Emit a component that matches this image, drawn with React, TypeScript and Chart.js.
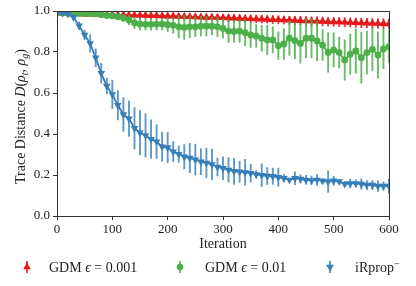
import { useEffect, useRef } from 'react';
import { Chart, registerables } from 'chart.js';

Chart.register(...registerables);

const iterations = [
  0, 10, 20, 30, 40, 50, 60, 70, 80, 90, 100, 110, 120, 130, 140, 150, 160, 170, 180, 190,
  200, 210, 220, 230, 240, 250, 260, 270, 280, 290, 300, 310, 320, 330, 340, 350, 360, 370, 380, 390,
  400, 410, 420, 430, 440, 450, 460, 470, 480, 490, 500, 510, 520, 530, 540, 550, 560, 570, 580, 590, 600,
];

const gdm001 = [
  0.988, 0.988, 0.987, 0.987, 0.986, 0.985, 0.985, 0.984, 0.983, 0.983, 0.982, 0.981, 0.981, 0.980, 0.979, 0.979, 0.978, 0.977, 0.977, 0.976,
  0.975, 0.975, 0.974, 0.973, 0.972, 0.971, 0.970, 0.969, 0.969, 0.968, 0.967, 0.966, 0.965, 0.964, 0.963, 0.962, 0.961, 0.960, 0.959, 0.958,
  0.957, 0.956, 0.955, 0.954, 0.953, 0.952, 0.951, 0.950, 0.949, 0.948, 0.947, 0.946, 0.945, 0.944, 0.943, 0.942, 0.941, 0.940, 0.939, 0.938, 0.937,
];
const gdm001Err = [
  0.008, 0.009, 0.01, 0.01, 0.011, 0.011, 0.012, 0.012, 0.012, 0.013, 0.013, 0.013, 0.014, 0.014, 0.014, 0.015, 0.015, 0.015, 0.015, 0.016,
  0.016, 0.016, 0.016, 0.017, 0.017, 0.017, 0.017, 0.018, 0.018, 0.018, 0.018, 0.019, 0.019, 0.019, 0.019, 0.02, 0.02, 0.02, 0.02, 0.021,
  0.021, 0.021, 0.021, 0.022, 0.022, 0.022, 0.022, 0.023, 0.023, 0.023, 0.023, 0.024, 0.024, 0.024, 0.024, 0.025, 0.025, 0.025, 0.025, 0.026, 0.026,
];

const gdm01 = [
  0.990, 0.990, 0.989, 0.989, 0.988, 0.988, 0.987, 0.986, 0.982, 0.978, 0.976, 0.972, 0.966, 0.956, 0.942, 0.936, 0.935, 0.935, 0.936, 0.936,
  0.933, 0.930, 0.923, 0.920, 0.923, 0.923, 0.926, 0.926, 0.926, 0.923, 0.915, 0.902, 0.900, 0.902, 0.894, 0.883, 0.878, 0.867, 0.859, 0.859,
  0.831, 0.839, 0.867, 0.855, 0.842, 0.867, 0.867, 0.854, 0.834, 0.798, 0.810, 0.797, 0.761, 0.789, 0.805, 0.772, 0.797, 0.813, 0.785, 0.815, 0.826,
];
const gdm01Err = [
  0.005, 0.005, 0.005, 0.005, 0.005, 0.005, 0.005, 0.006, 0.008, 0.01, 0.012, 0.015, 0.02, 0.025, 0.03, 0.03, 0.03, 0.03, 0.03, 0.03,
  0.035, 0.04, 0.055, 0.06, 0.055, 0.05, 0.05, 0.05, 0.045, 0.05, 0.049, 0.057, 0.055, 0.057, 0.065, 0.063, 0.057, 0.065, 0.073, 0.065,
  0.069, 0.077, 0.085, 0.089, 0.098, 0.098, 0.098, 0.098, 0.077, 0.098, 0.085, 0.077, 0.1, 0.1, 0.11, 0.126, 0.106, 0.106, 0.114, 0.098, 0.08,
];

const irprop = [
  0.995, 0.99, 0.985, 0.969, 0.928, 0.883, 0.842, 0.772, 0.696, 0.634, 0.593, 0.54, 0.495, 0.475, 0.428, 0.406, 0.393, 0.375, 0.363, 0.338,
  0.334, 0.314, 0.302, 0.289, 0.283, 0.275, 0.265, 0.259, 0.252, 0.239, 0.233, 0.225, 0.218, 0.216, 0.213, 0.209, 0.203, 0.199, 0.195, 0.194,
  0.189, 0.184, 0.176, 0.184, 0.181, 0.176, 0.174, 0.176, 0.171, 0.168, 0.172, 0.168, 0.156, 0.159, 0.159, 0.156, 0.151, 0.151, 0.146, 0.146, 0.146,
];
const irpropErr = [
  0.005, 0.005, 0.01, 0.015, 0.02, 0.025, 0.045, 0.045, 0.05, 0.04, 0.07, 0.073, 0.084, 0.088, 0.103, 0.11, 0.107, 0.096, 0.084, 0.072,
  0.075, 0.05, 0.042, 0.061, 0.073, 0.077, 0.065, 0.073, 0.077, 0.045, 0.057, 0.061, 0.065, 0.053, 0.065, 0.045, 0.02, 0.057, 0.043, 0.041,
  0.046, 0.02, 0.01, 0.033, 0.022, 0.024, 0.023, 0.028, 0.014, 0.054, 0.023, 0.012, 0.014, 0.023, 0.02, 0.027, 0.024, 0.024, 0.028, 0.022, 0.037,
];

const seriesLabels = ['GDM ϵ = 0.001', 'GDM ϵ = 0.01', 'iRprop⁻'];
const xTickValues = [0, 100, 200, 300, 400, 500, 600];
const yTickValues = [0, 0.2, 0.4, 0.6, 0.8, 1.0];

const RED = '#e41a1c';
const GREEN = '#4daf4a';
const BLUE = '#377eb8';
const SERIF = '"Liberation Serif", "DejaVu Serif", serif';

const toPoints = (ys: number[]) => iterations.map((x, i) => ({ x, y: ys[i] }));

const errorBarPlugin = {
  id: 'errorBars',
  beforeDatasetDraw(chart: any, args: any) {
    const ds = chart.data.datasets[args.index];
    const errs: number[] | undefined = ds.errors;
    if (!errs) return;
    const ctx = chart.ctx;
    const ys = chart.scales.y;
    const xs = chart.scales.x;
    const area = chart.chartArea;
    ctx.save();
    ctx.beginPath();
    ctx.rect(area.left, area.top, area.right - area.left, area.bottom - area.top);
    ctx.clip();
    ctx.strokeStyle = ds.errorColor;
    ctx.lineWidth = 1.9;
    ds.data.forEach((p: any, i: number) => {
      const px = xs.getPixelForValue(p.x);
      ctx.beginPath();
      ctx.moveTo(px, ys.getPixelForValue(p.y - errs[i]));
      ctx.lineTo(px, ys.getPixelForValue(p.y + errs[i]));
      ctx.stroke();
    });
    ctx.restore();
  },
};

const framePlugin = {
  id: 'frame',
  afterDraw(chart: any) {
    const { ctx, chartArea: a } = chart;
    ctx.save();
    ctx.strokeStyle = '#333';
    ctx.lineWidth = 1;
    ctx.strokeRect(Math.round(a.left) + 0.5, Math.round(a.top) + 0.5, Math.round(a.right - a.left), Math.round(a.bottom - a.top));
    ctx.restore();
  },
};

type Part = { t: string; italic?: boolean; sub?: boolean; sup?: boolean };

function drawParts(ctx: CanvasRenderingContext2D, parts: Part[], x: number, y: number, size: number, align: 'left' | 'center') {
  const fontFor = (p: Part) => `${p.italic ? 'italic ' : ''}${p.sub || p.sup ? Math.round(size * 0.72) : size}px ${SERIF}`;
  let total = 0;
  const widths = parts.map((p) => {
    ctx.font = fontFor(p);
    const w = ctx.measureText(p.t).width;
    total += w;
    return w;
  });
  let cx = align === 'center' ? x - total / 2 : x;
  ctx.textBaseline = 'alphabetic';
  ctx.textAlign = 'left';
  parts.forEach((p, i) => {
    ctx.font = fontFor(p);
    const dy = p.sub ? size * 0.22 : p.sup ? -size * 0.38 : 0;
    ctx.fillText(p.t, cx, y + dy);
    cx += widths[i];
  });
}

const yTitlePlugin = {
  id: 'yTitle',
  afterDraw(chart: any) {
    const { ctx, chartArea: a } = chart;
    ctx.save();
    ctx.translate(25, (a.top + a.bottom) / 2 + 3);
    ctx.rotate(-Math.PI / 2);
    ctx.fillStyle = '#222';
    drawParts(
      ctx,
      [
        { t: 'Trace Distance ' },
        { t: 'D', italic: true },
        { t: '(' },
        { t: 'ρ', italic: true },
        { t: 't', italic: true, sub: true },
        { t: ', ' },
        { t: 'ρ', italic: true },
        { t: 'g', italic: true, sub: true },
        { t: ')' },
      ],
      0,
      0,
      14,
      'center'
    );
    ctx.restore();
  },
};

function drawMarker(ctx: CanvasRenderingContext2D, kind: string, x: number, y: number, r: number) {
  ctx.beginPath();
  if (kind === 'circle') {
    ctx.arc(x, y, r, 0, Math.PI * 2);
  } else {
    const s = kind === 'up' ? 1 : -1;
    const h = r * 1.5;
    const half = r * 0.866;
    ctx.moveTo(x, y - s * h * 0.667);
    ctx.lineTo(x - half, y + s * h * 0.333);
    ctx.lineTo(x + half, y + s * h * 0.333);
    ctx.closePath();
  }
  ctx.fill();
}

const legendPlugin = {
  id: 'customLegend',
  afterDraw(chart: any) {
    const { ctx } = chart;
    const y = 267;
    const items = [
      { color: RED, kind: 'up', mx: 27, tx: 49, parts: [{ t: 'GDM ' }, { t: 'ϵ', italic: true }, { t: ' = 0.001' }] },
      { color: GREEN, kind: 'circle', mx: 180, tx: 205, parts: [{ t: 'GDM ' }, { t: 'ϵ', italic: true }, { t: ' = 0.01' }] },
      { color: BLUE, kind: 'down', mx: 330, tx: 355, parts: [{ t: 'iRprop' }, { t: '−', sup: true }] },
    ];
    ctx.save();
    items.forEach((it, i) => {
      ctx.strokeStyle = it.color;
      ctx.globalAlpha = 0.85;
      ctx.lineWidth = 1.9;
      ctx.beginPath();
      ctx.moveTo(it.mx, y - 6);
      ctx.lineTo(it.mx, y + 6);
      ctx.stroke();
      ctx.globalAlpha = 1;
      ctx.fillStyle = it.color;
      drawMarker(ctx, it.kind, it.mx, y, it.kind === 'circle' ? 3.3 : 4.5);
      ctx.fillStyle = '#222';
      drawParts(ctx, it.parts as Part[], it.tx, y + 5, 14, 'left');
      void seriesLabels[i];
    });
    ctx.restore();
  },
};

export default function App() {
  const ref = useRef<HTMLCanvasElement | null>(null);

  useEffect(() => {
    if (!ref.current) return;
    const chart = new Chart(ref.current, {
      type: 'line',
      data: {
        datasets: [
          {
            label: seriesLabels[0],
            data: toPoints(gdm001),
            borderColor: RED,
            backgroundColor: RED,
            borderWidth: 1.8,
            pointStyle: 'triangle',
            pointRadius: 4.6,
            pointBorderWidth: 0,
            pointHoverRadius: 4.6,
            order: 3,
            errors: gdm001Err,
            errorColor: 'rgba(228,26,28,0.85)',
          } as any,
          {
            label: seriesLabels[1],
            data: toPoints(gdm01),
            borderColor: GREEN,
            backgroundColor: GREEN,
            borderWidth: 1.8,
            pointStyle: 'circle',
            pointRadius: 3.4,
            pointBorderWidth: 0,
            pointHoverRadius: 3.4,
            order: 2,
            errors: gdm01Err,
            errorColor: 'rgba(77,175,74,0.85)',
          } as any,
          {
            label: seriesLabels[2],
            data: toPoints(irprop),
            borderColor: BLUE,
            backgroundColor: BLUE,
            borderWidth: 1.8,
            pointStyle: 'triangle',
            pointRotation: 180,
            pointRadius: 4.4,
            pointBorderWidth: 0,
            pointHoverRadius: 4.4,
            order: 1,
            errors: irpropErr,
            errorColor: 'rgba(55,126,184,0.8)',
          } as any,
        ],
      },
      options: {
        animation: false,
        responsive: false,
        maintainAspectRatio: false,
        events: [],
        layout: { padding: { left: 34, right: 27, top: 11, bottom: 33 } },
        plugins: {
          legend: { display: false },
          tooltip: { enabled: false },
        },
        scales: {
          x: {
            type: 'linear',
            min: 0,
            max: 600,
            afterFit: (s: any) => {
              s.height = 37;
            },
            afterBuildTicks: (s: any) => {
              s.ticks = xTickValues.map((v) => ({ value: v }));
            },
            ticks: {
              font: { family: SERIF, size: 13 },
              color: '#222',
              padding: 2,
              maxRotation: 0,
              callback: (v: any) => String(v),
            },
            grid: { drawOnChartArea: false, drawTicks: true, tickLength: 4, color: '#333' },
            border: { display: true, color: '#333' },
            title: {
              display: true,
              text: 'Iteration',
              font: { family: SERIF, size: 14 },
              color: '#222',
              padding: 0,
            },
          },
          y: {
            type: 'linear',
            min: 0,
            max: 1,
            afterFit: (s: any) => {
              s.width = 23;
            },
            afterBuildTicks: (s: any) => {
              s.ticks = yTickValues.map((v) => ({ value: v }));
            },
            ticks: {
              font: { family: SERIF, size: 13 },
              color: '#222',
              padding: 3,
              callback: (v: any) => Number(v).toFixed(1),
            },
            grid: { drawOnChartArea: false, drawTicks: true, tickLength: 4, color: '#333' },
            border: { display: true, color: '#333' },
          },
        },
      },
      plugins: [errorBarPlugin, framePlugin, yTitlePlugin, legendPlugin],
    } as any);
    return () => chart.destroy();
  }, []);

  return (
    <div style={{ position: 'fixed', left: 0, top: 0, width: 416, height: 286, background: '#fff' }}>
      <canvas ref={ref} width={416} height={286} style={{ width: 416, height: 286 }} />
    </div>
  );
}
